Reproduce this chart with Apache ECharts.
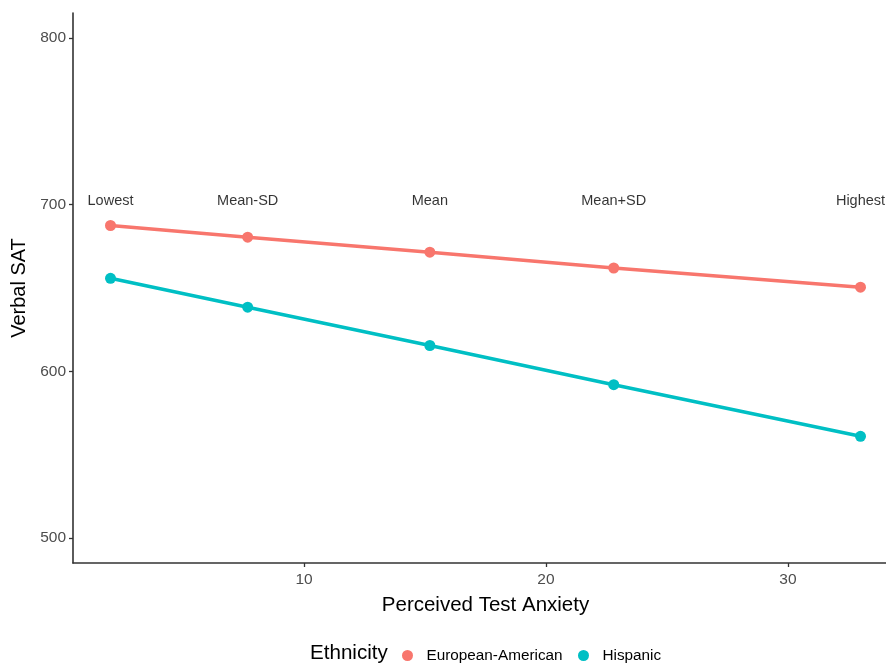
<!DOCTYPE html>
<html>
<head>
<meta charset="utf-8">
<script src="https://cdn.jsdelivr.net/npm/echarts@6/dist/echarts.min.js"></script>
<style>html,body{margin:0;padding:0;background:#fff;overflow:hidden;width:886px;height:663px}#c{width:900px;height:663px}</style>
</head>
<body>
<div id="c"></div>
<script>
// Data
var anxiety = [2, 7.67, 15.2, 22.8, 33];
var levelLabels = ['Lowest', 'Mean-SD', 'Mean', 'Mean+SD', 'Highest'];
var labelY = 702;
var euroSAT = [687.5, 680.5, 671.5, 662, 650.5];
var hispSAT = [655.8, 638.5, 615.5, 592, 561];
var xTicks = [10, 20, 30];
var yTicks = [500, 600, 700, 800];
var seriesNames = ['European-American', 'Hispanic'];
var colors = ['#F8766D', '#00BFC4'];

function pairs(xs, ys) { return xs.map(function (x, i) { return [x, ys[i]]; }); }

var font = 'Liberation Sans, Arial, sans-serif';
var chart = echarts.init(document.getElementById('c'), null, { renderer: 'canvas' });
chart.setOption({
  animation: false,
  backgroundColor: '#fff',
  textStyle: { fontFamily: font },
  grid: { left: 73, right: 2, top: 13, bottom: 100, containLabel: false },
  xAxis: {
    type: 'value', min: 0.45, max: 34.55,
    name: 'Perceived Test Anxiety', nameLocation: 'middle', nameGap: 32,
    nameTextStyle: { fontSize: 20.5, color: '#000', fontFamily: font },
    axisLine: { show: true, lineStyle: { color: '#333', width: 1.6 } },
    axisTick: { show: true, length: 4, customValues: xTicks, lineStyle: { color: '#333', width: 1.3 } },
    axisLabel: { customValues: xTicks, color: '#4D4D4D', fontSize: 15.5, margin: 9, fontFamily: font },
    splitLine: { show: false }
  },
  yAxis: {
    type: 'value', min: 485, max: 815,
    name: 'Verbal SAT', nameLocation: 'middle', nameGap: 39, nameRotate: 90,
    nameTextStyle: { fontSize: 20, color: '#000', fontFamily: font },
    axisLine: { show: true, lineStyle: { color: '#333', width: 1.6 } },
    axisTick: { show: true, length: 4, customValues: yTicks, lineStyle: { color: '#333', width: 1.3 } },
    axisLabel: { customValues: yTicks, color: '#4D4D4D', fontSize: 15.5, margin: 7, fontFamily: font },
    splitLine: { show: false }
  },
  legend: [
    { data: [seriesNames[0]], left: 397, top: 643, icon: 'circle', itemWidth: 28, itemHeight: 11,
      textStyle: { fontSize: 15.3, color: '#000', fontFamily: font } },
    { data: [seriesNames[1]], left: 573, top: 643, icon: 'circle', itemWidth: 28, itemHeight: 11,
      textStyle: { fontSize: 15.3, color: '#000', fontFamily: font } }
  ],
  graphic: [
    { type: 'text', left: 310, top: 643, style: { text: 'Ethnicity', fontSize: 20.6, fill: '#000', fontFamily: font } }
  ],
  series: [
    { name: seriesNames[0], type: 'line', data: pairs(anxiety, euroSAT), color: colors[0],
      symbol: 'circle', symbolSize: 11, lineStyle: { width: 3.5 }, itemStyle: { color: colors[0] } },
    { name: seriesNames[1], type: 'line', data: pairs(anxiety, hispSAT), color: colors[1],
      symbol: 'circle', symbolSize: 11, lineStyle: { width: 3.5 }, itemStyle: { color: colors[1] } },
    { name: 'labels', type: 'scatter', symbolSize: 1, itemStyle: { color: 'rgba(0,0,0,0)' },
      data: anxiety.map(function (x, i) { return { value: [x, labelY], name: levelLabels[i] }; }),
      label: { show: true, position: 'inside', formatter: '{b}', color: '#000', fontSize: 14.5, fontFamily: font },
      silent: true, z: 5 }
  ]
});
</script>
</body>
</html>
